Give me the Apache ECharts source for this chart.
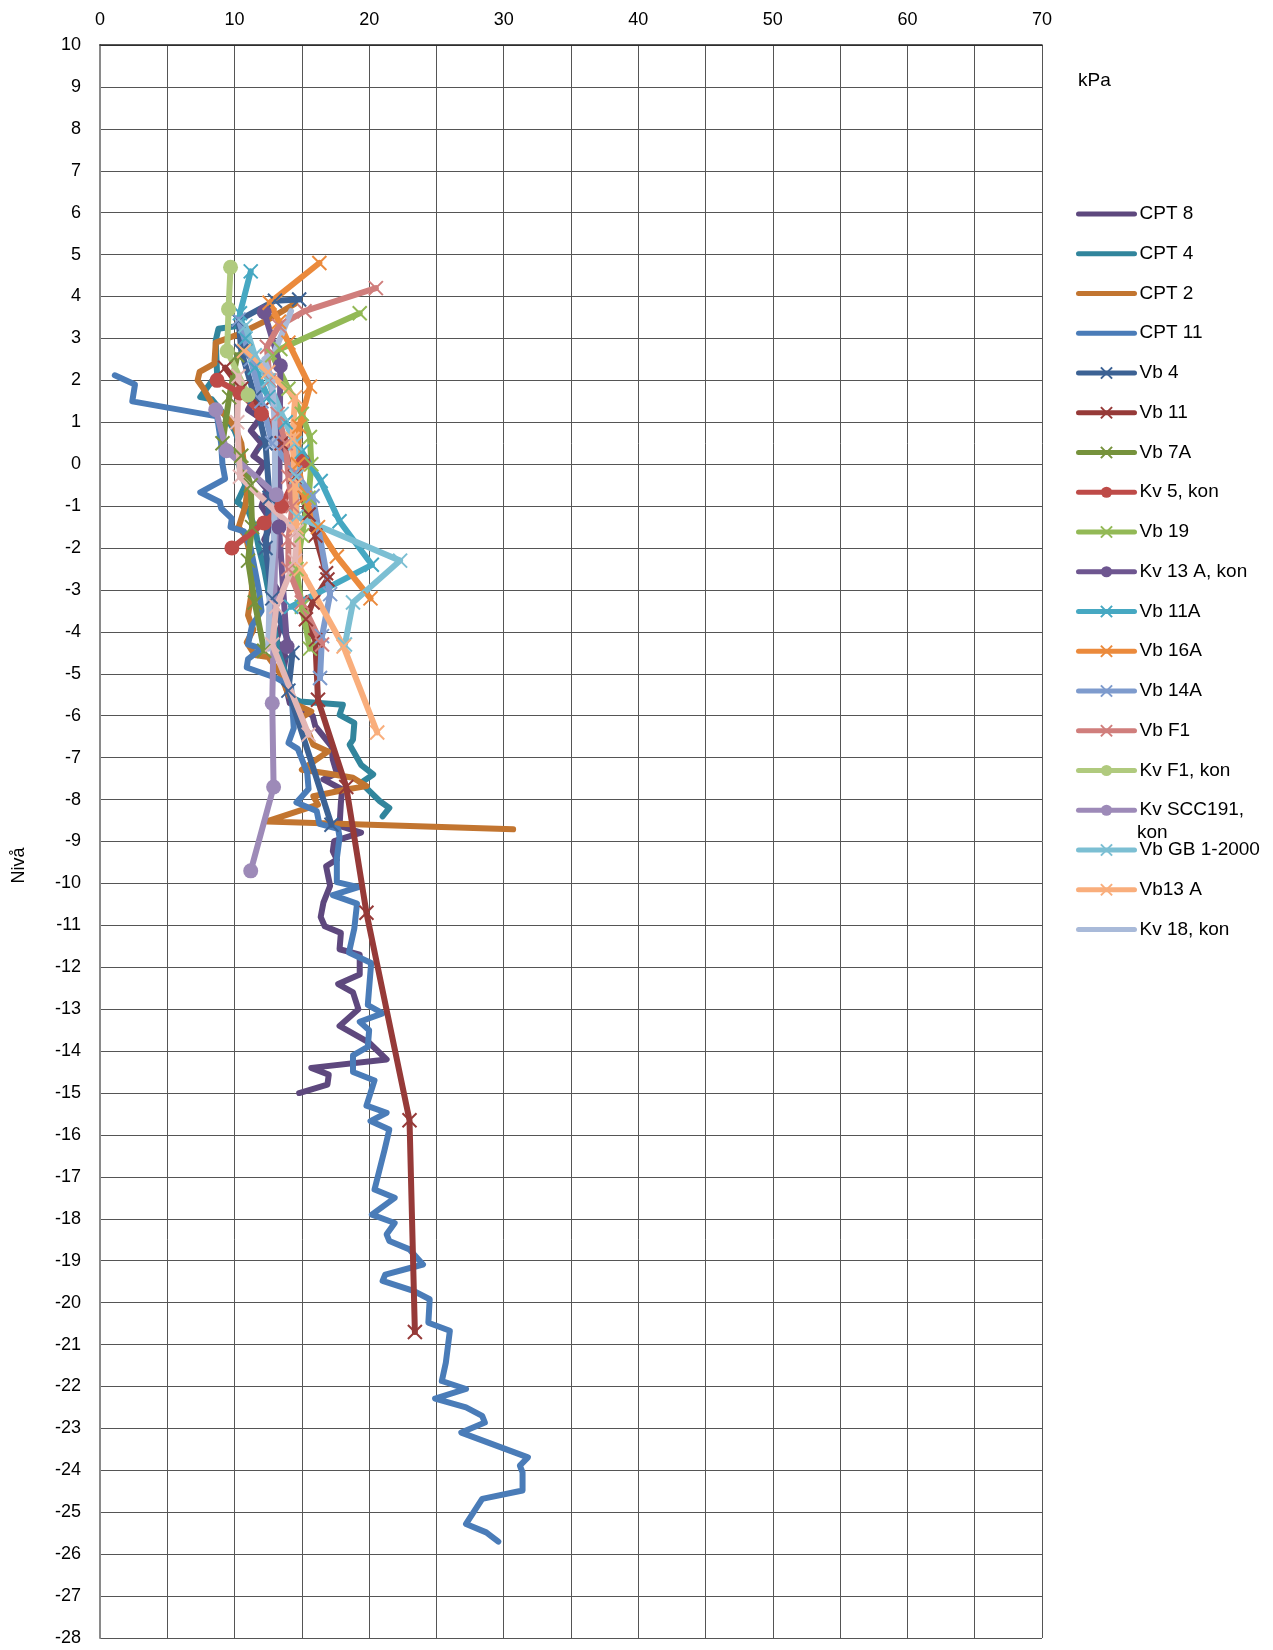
<!DOCTYPE html>
<html>
<head>
<meta charset="utf-8">
<script src="https://cdn.jsdelivr.net/npm/echarts@6/dist/echarts.min.js"></script>
<style>
  html, body { margin: 0; padding: 0; background: #fff; }
  #chart { width: 1273px; height: 1650px; }
</style>
</head>
<body>
<div id="chart"></div>
<script>
// [kPa, nivå] per sondering
const cpt8 = [[11.5, 1.6], [11.0, 1.3], [11.9, 1.1], [11.2, 0.8], [12.0, 0.5], [11.4, 0.2], [12.2, 0.0], [11.6, -0.3], [12.4, -0.6], [12.0, -1.0], [12.8, -1.4], [12.2, -1.8], [13.0, -2.2], [12.4, -2.6], [13.2, -3.0], [12.7, -3.4], [13.5, -3.8], [13.1, -4.2], [13.8, -4.6], [13.6, -5.0], [14.1, -5.7], [15.8, -6.0], [16.0, -6.25], [17.2, -6.73], [17.3, -7.05], [17.6, -7.37], [16.6, -7.52], [18.0, -7.76], [17.9, -8.08], [17.8, -8.63], [19.4, -8.79], [17.4, -8.99], [17.3, -9.23], [17.6, -9.43], [16.8, -9.59], [17.1, -10.06], [16.6, -10.46], [16.4, -10.8], [16.7, -11.02], [17.9, -11.18], [17.8, -11.57], [19.3, -11.7], [19.3, -12.17], [17.7, -12.4], [18.8, -12.6], [19.2, -13.0], [17.8, -13.4], [20.0, -13.8], [21.3, -14.2], [15.7, -14.4], [17.0, -14.56], [16.9, -14.8], [14.8, -15.0]]
const cpt4 = [[10.3, 3.3], [8.8, 3.23], [8.6, 2.95], [8.7, 2.15], [7.45, 1.6], [8.3, 1.55], [9.2, 1.2], [10.0, 0.8], [10.5, 0.4], [10.3, 0.0], [10.8, -0.5], [10.2, -0.9], [11.0, -1.1], [11.5, -1.5], [11.8, -2.0], [12.2, -2.5], [12.5, -3.0], [12.8, -3.5], [13.0, -4.0], [13.3, -4.5], [13.8, -5.0], [14.1, -5.54], [14.85, -5.66], [18.05, -5.74], [17.8, -5.98], [18.9, -6.17], [18.8, -6.57], [18.55, -6.69], [19.4, -7.17], [20.3, -7.4], [19.4, -7.6], [20.8, -8.04], [21.5, -8.2], [21.0, -8.4]]
const cpt2 = [[14.5, 3.83], [12.5, 3.45], [10.3, 3.1], [8.6, 2.9], [8.5, 2.4], [7.4, 2.2], [7.25, 2.0], [7.7, 1.8], [8.4, 1.4], [9.2, 1.2], [10.0, 0.9], [10.5, 0.5], [10.7, 0.0], [11.0, -0.5], [10.8, -1.0], [10.3, -1.5], [10.8, -1.7], [11.2, -2.2], [11.3, -3.0], [11.0, -3.6], [11.4, -3.95], [10.9, -4.25], [11.5, -4.55], [12.5, -4.6], [13.4, -5.0], [14.0, -5.5], [14.6, -5.74], [15.7, -5.9], [14.7, -6.1], [15.5, -6.41], [15.85, -6.69], [16.95, -6.85], [15.0, -7.29], [16.8, -7.37], [18.8, -7.48], [19.8, -7.68], [18.3, -7.76], [15.85, -7.92], [16.2, -8.12], [12.4, -8.52], [30.7, -8.71]]
const cpt11 = [[1.1, 2.12], [2.6, 1.9], [2.4, 1.5], [8.7, 1.14], [9.0, 0.5], [9.1, 0.0], [9.3, -0.35], [7.45, -0.67], [8.9, -0.9], [9.0, -1.05], [9.8, -1.3], [9.7, -1.5], [10.7, -1.6], [11.2, -2.0], [11.5, -2.5], [11.8, -3.0], [12.0, -3.5], [11.3, -3.85], [11.0, -4.3], [12.0, -4.4], [11.0, -4.65], [10.9, -4.85], [13.1, -5.1], [14.2, -5.3], [14.4, -6.3], [14.0, -6.65], [14.7, -6.79], [15.4, -7.36], [15.5, -7.75], [14.6, -8.07], [16.1, -8.27], [16.3, -8.58], [17.7, -8.7], [17.8, -8.9], [17.6, -9.4], [17.6, -9.97], [19.2, -10.09], [17.3, -10.28], [19.1, -10.48], [18.9, -11.07], [18.5, -11.65], [20.15, -11.9], [19.9, -12.9], [21.0, -13.1], [19.3, -13.3], [20.0, -13.5], [19.9, -13.9], [18.8, -14.1], [18.8, -14.5], [20.4, -14.7], [19.8, -15.3], [21.3, -15.47], [20.1, -15.67], [21.5, -15.87], [21.15, -16.35], [20.4, -17.3], [21.9, -17.5], [20.2, -17.9], [21.9, -18.1], [21.3, -18.37], [21.5, -18.53], [23.0, -18.73], [24.0, -19.09], [21.2, -19.33], [21.0, -19.48], [23.3, -19.72], [24.5, -19.92], [24.4, -20.48], [26.0, -20.67], [25.7, -21.43], [25.4, -21.87], [27.2, -22.06], [24.9, -22.29], [27.2, -22.5], [28.4, -22.7], [28.6, -22.86], [26.85, -23.1], [31.8, -23.69], [31.2, -23.89], [31.4, -24.05], [31.4, -24.48], [28.4, -24.68], [27.2, -25.28], [28.7, -25.48], [29.6, -25.7]]
const vb4 = [[14.8, 3.93], [13.0, 3.9], [10.3, 3.43], [10.5, 2.7], [11.5, 1.6], [12.3, 0.5], [12.6, -0.8], [12.3, -2.0], [12.8, -3.2], [14.3, -4.5], [14.0, -5.4], [17.2, -8.6]]
const vb11 = [[9.3, 2.3], [10.5, 1.8], [12.0, 1.3], [13.5, 0.5], [14.5, -0.3], [15.5, -1.2], [16.0, -1.7], [16.8, -2.6], [16.9, -2.75], [15.8, -3.3], [15.3, -3.7], [16.0, -4.2], [16.2, -5.62], [18.3, -7.7], [19.8, -10.7], [23.0, -15.65], [23.4, -20.7]]
const vb7a = [[10.2, 2.6], [9.6, 1.6], [9.1, 0.5], [10.5, 0.2], [11.2, -0.5], [11.3, -1.5], [11.0, -2.3], [11.5, -3.3], [12.2, -4.45]]
const kv5 = [[8.7, 2.0], [10.4, 1.7], [12.0, 1.2], [15.1, 0.07], [13.5, -1.0], [12.2, -1.4], [9.8, -2.0]]
const vb19 = [[19.3, 3.6], [13.4, 2.75], [12.8, 2.6], [14.0, 1.8], [15.0, 1.2], [15.6, 0.65], [15.7, 0.0], [15.5, -0.8], [15.0, -1.7], [14.6, -2.5], [15.0, -3.4], [15.6, -4.4]]
const kv13a = [[12.2, 3.63], [13.4, 2.35], [13.3, -1.5], [13.9, -4.35]]
const vb11a = [[11.2, 4.6], [10.4, 3.6], [10.8, 3.0], [11.5, 2.3], [12.5, 1.6], [13.8, 1.0], [15.0, 0.3], [16.4, -0.4], [17.8, -1.36], [20.2, -2.4], [14.2, -3.4]]
const vb16a = [[16.3, 4.8], [12.6, 3.85], [13.3, 3.4], [14.0, 2.9], [15.6, 1.85], [14.8, 0.9], [14.7, 0.0], [15.2, -0.8], [16.2, -1.5], [17.6, -2.2], [20.1, -3.2]]
const vb14a = [[10.3, 3.45], [11.2, 2.5], [12.0, 1.5], [12.8, 0.5], [14.5, -0.2], [15.8, -0.76], [17.1, -3.1], [16.5, -4.1], [16.35, -5.1]]
const vbF1 = [[20.5, 4.2], [15.2, 3.65], [13.3, 3.3], [12.4, 2.8], [12.6, 2.0], [13.2, 1.2], [13.8, 0.5], [14.0, -0.3], [14.3, -1.0], [14.0, -1.8], [14.0, -2.5], [15.0, -3.3], [16.5, -4.3]]
const kvF1 = [[9.7, 4.7], [9.55, 3.7], [9.45, 2.7], [11.0, 1.65]]
const kvScc191 = [[8.6, 1.3], [9.4, 0.32], [13.1, -0.73], [12.8, -5.7], [12.9, -7.7], [11.2, -9.7]]
const vbGb = [[10.8, 3.3], [11.5, 2.6], [12.5, 2.0], [13.5, 1.2], [14.5, 0.5], [14.6, -0.3], [14.6, -1.25], [22.3, -2.3], [18.8, -3.3], [18.2, -4.3]]
const vb13a = [[10.7, 2.7], [12.5, 2.2], [14.5, 1.6], [14.3, 0.6], [14.5, -0.5], [14.6, -1.5], [14.9, -2.5], [18.1, -4.35], [20.6, -6.4]]
const kv18 = [[14.2, 3.65], [13.0, 2.7], [12.2, 2.5], [12.8, 2.0], [13.0, 0.8], [13.0, -0.5], [12.9, -2.0], [12.6, -3.2], [12.5, -4.4]]
// rosa serie utan egen rad i förklaringen
const extraPink = [[10.3, 2.1], [10.2, 1.0], [10.4, -0.3], [14.6, -1.6], [14.5, -2.3], [13.1, -3.4], [12.8, -4.3], [15.5, -6.45]]

const FONT = 'Liberation Sans, Arial, sans-serif'
const CROSS = 'path://M0,0L10,10M10,0L0,10'

function mkSeries(name, data, color, marker) {
  const s = {
    name: name,
    type: 'line',
    data: data,
    lineStyle: { color: color, width: 6, cap: 'round', join: 'round' },
    itemStyle: { color: color },
    emphasis: { disabled: true },
    z: 2
  }
  if (marker === 'x') {
    s.symbol = CROSS
    s.symbolSize = 14
    s.itemStyle = { color: color, borderColor: color, borderWidth: 2 }
  } else if (marker === 'o') {
    s.symbol = 'circle'
    s.symbolSize = 15
  } else {
    s.symbol = 'none'
  }
  return s
}

const series = [
  mkSeries('CPT 8', cpt8, '#5E487E'),
  mkSeries('CPT 4', cpt4, '#31859C'),
  mkSeries('CPT 2', cpt2, '#C27530'),
  mkSeries('CPT 11', cpt11, '#4A7CB8'),
  mkSeries('Vb 4', vb4, '#3C6294', 'x'),
  mkSeries('Vb 11', vb11, '#963A38', 'x'),
  mkSeries('Vb 7A', vb7a, '#76923C', 'x'),
  mkSeries('Kv 5, kon', kv5, '#BE4B48', 'o'),
  mkSeries('Vb 19', vb19, '#93B956', 'x'),
  mkSeries('Kv 13 A, kon', kv13a, '#6E5690', 'o'),
  mkSeries('Vb 11A', vb11a, '#46A8C2', 'x'),
  mkSeries('Vb 16A', vb16a, '#EB8A3C', 'x'),
  mkSeries('Vb 14A', vb14a, '#7E9BCD', 'x'),
  mkSeries('Vb F1', vbF1, '#D07E7C', 'x'),
  mkSeries('Kv F1, kon', kvF1, '#B0CA7E', 'o'),
  mkSeries('Kv SCC191, kon', kvScc191, '#9D8AB8', 'o'),
  mkSeries('Vb GB 1-2000', vbGb, '#7CBFD3', 'x'),
  mkSeries('Vb13 A', vb13a, '#F9AE7C', 'x'),
  mkSeries('Kv 18, kon', kv18, '#A9BAD9'),
  mkSeries('Rosa', extraPink, '#E3B6B5', 'x')
]

// serier utan markör får ingen symbol i förklaringen
const legendData = series
  .filter(s => s.name !== 'Rosa')
  .map(s => (s.symbol === 'none'
    ? { name: s.name, itemStyle: { color: 'rgba(0,0,0,0)', borderColor: 'rgba(0,0,0,0)', borderWidth: 0 } }
    : { name: s.name }))

const chart = echarts.init(document.getElementById('chart'))
chart.setOption({
  animation: false,
  backgroundColor: '#ffffff',
  textStyle: { fontFamily: FONT },
  title: {
    text: 'kPa',
    left: 1073,
    top: 66,
    textStyle: { fontFamily: FONT, fontSize: 19, fontWeight: 'normal', color: '#000' }
  },
  graphic: [
    {
      type: 'text',
      left: 1137,
      top: 823,
      style: { text: 'kon', fontSize: 19, fontFamily: FONT, fill: '#000' }
    }
  ],
  grid: { left: 100, top: 45, right: 231, bottom: 12, containLabel: false },
  xAxis: {
    type: 'value',
    position: 'top',
    min: 0,
    max: 70,
    interval: 5,
    axisLine: { show: true, onZero: false, lineStyle: { color: '#222', width: 1.5 } },
    axisTick: { show: false },
    axisLabel: {
      margin: 16,
      fontSize: 18,
      color: '#000',
      fontFamily: FONT,
      formatter: v => (v % 10 === 0 ? String(v) : '')
    },
    splitLine: { show: true, lineStyle: { color: '#555', width: 1 } }
  },
  yAxis: {
    type: 'value',
    min: -28,
    max: 10,
    interval: 1,
    name: 'Nivå',
    nameLocation: 'middle',
    nameRotate: 90,
    nameGap: 72,
    nameTextStyle: { fontSize: 18, color: '#000', fontFamily: FONT, padding: [0, 0, 0, -48] },
    axisLine: { show: true, onZero: false, lineStyle: { color: '#8a8a8a', width: 2 } },
    axisTick: { show: false },
    axisLabel: { margin: 19, fontSize: 18, color: '#000', fontFamily: FONT },
    splitLine: { show: true, lineStyle: { color: '#555', width: 1 } }
  },
  legend: {
    orient: 'vertical',
    left: 1076,
    top: 204,
    padding: 0,
    data: legendData,
    itemWidth: 56,
    itemHeight: 14,
    itemGap: 19.75,
    selectedMode: false,
    lineStyle: { width: 5 },
    formatter: n => (n === 'Kv SCC191, kon' ? 'Kv SCC191,' : n),
    textStyle: { fontSize: 19, color: '#000', fontFamily: FONT, lineHeight: 20 }
  },
  series: series
})
</script>
</body>
</html>
